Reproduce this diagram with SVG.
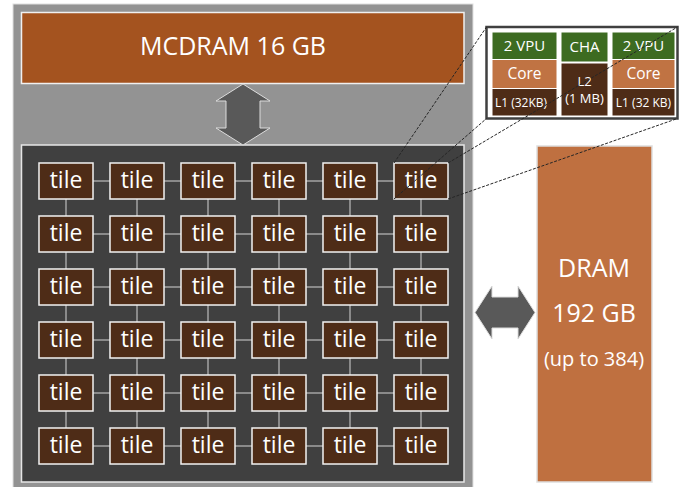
<svg xmlns="http://www.w3.org/2000/svg" width="686" height="487" viewBox="0 0 686 487">
  <defs>
    <style>
      .lbl { font-family: "Open Sans", "DejaVu Sans", sans-serif; fill: #ffffff; text-anchor: middle; }
      .tile rect { fill: #4e2c17; stroke: #f2f2f2; stroke-width: 1.5; }
      .tile text { font-family: "Open Sans", "DejaVu Sans", sans-serif; font-size: 23px; fill: #ffffff; text-anchor: middle; }
      .mesh line { stroke: #a3a3a3; stroke-width: 1.5; }
      .arrow { fill: #595959; stroke: #dcdcdc; stroke-width: 1; }
      .zoom line { stroke: #262626; stroke-width: 1; stroke-dasharray: 3 1.5; }
      .cell { stroke: #ffffff; stroke-width: 1; }
      .vpu { fill: #3d6b21; }
      .core { fill: #c07343; }
      .cache { fill: #4e2c17; }
    </style>
  </defs>

  <!-- chip package -->
  <rect x="13" y="4" width="460" height="484" fill="#939393" stroke="#e0e0e0" stroke-width="1"/>

  <!-- on-package memory -->
  <g id="mcdram">
    <rect x="21.5" y="12.5" width="442.5" height="71" fill="#a4531f" stroke="#f0f0f0" stroke-width="1.5"/>
    <text class="lbl" x="233" y="55" font-size="25">MCDRAM 16 GB</text>
  </g>

  <!-- tile mesh die -->
  <g id="die">
    <rect x="21.5" y="145" width="442.5" height="337" fill="#404040" stroke="#e6e6e6" stroke-width="1.5"/>
  </g>

  <!-- off-package memory -->
  <g id="dram">
    <rect x="537" y="146" width="115" height="336" fill="#bf7040" stroke="#dedede" stroke-width="1.5"/>
    <text class="lbl" x="594" y="277" font-size="25">DRAM</text>
    <text class="lbl" x="594" y="322" font-size="25">192 GB</text>
    <text class="lbl" x="594" y="366" font-size="20">(up to 384)</text>
  </g>

  <!-- connectors: memory links and mesh -->
  <g id="connectors">
    <path class="arrow" d="M243,84 L270,101 L260,101 L260,128 L270,128 L243,145 L216,128 L226,128 L226,101 L216,101 Z"/>
    <path class="arrow" d="M475,312.5 L492,286 L492,297 L518,297 L518,286 L535,312.5 L518,339 L518,328 L492,328 L492,339 Z" stroke="none"/>
    <g class="mesh">
      <!-- horizontal links -->
      <line x1="93" y1="181" x2="110" y2="181"/><line x1="164" y1="181" x2="181" y2="181"/><line x1="235" y1="181" x2="252" y2="181"/><line x1="306" y1="181" x2="323" y2="181"/><line x1="377" y1="181" x2="394" y2="181"/>
      <line x1="93" y1="234" x2="110" y2="234"/><line x1="164" y1="234" x2="181" y2="234"/><line x1="235" y1="234" x2="252" y2="234"/><line x1="306" y1="234" x2="323" y2="234"/><line x1="377" y1="234" x2="394" y2="234"/>
      <line x1="93" y1="287" x2="110" y2="287"/><line x1="164" y1="287" x2="181" y2="287"/><line x1="235" y1="287" x2="252" y2="287"/><line x1="306" y1="287" x2="323" y2="287"/><line x1="377" y1="287" x2="394" y2="287"/>
      <line x1="93" y1="340" x2="110" y2="340"/><line x1="164" y1="340" x2="181" y2="340"/><line x1="235" y1="340" x2="252" y2="340"/><line x1="306" y1="340" x2="323" y2="340"/><line x1="377" y1="340" x2="394" y2="340"/>
      <line x1="93" y1="393" x2="110" y2="393"/><line x1="164" y1="393" x2="181" y2="393"/><line x1="235" y1="393" x2="252" y2="393"/><line x1="306" y1="393" x2="323" y2="393"/><line x1="377" y1="393" x2="394" y2="393"/>
      <line x1="93" y1="446" x2="110" y2="446"/><line x1="164" y1="446" x2="181" y2="446"/><line x1="235" y1="446" x2="252" y2="446"/><line x1="306" y1="446" x2="323" y2="446"/><line x1="377" y1="446" x2="394" y2="446"/>
      <!-- vertical links -->
      <line x1="66" y1="199" x2="66" y2="216"/><line x1="137" y1="199" x2="137" y2="216"/><line x1="208" y1="199" x2="208" y2="216"/><line x1="279" y1="199" x2="279" y2="216"/><line x1="350" y1="199" x2="350" y2="216"/><line x1="421" y1="199" x2="421" y2="216"/>
      <line x1="66" y1="252" x2="66" y2="269"/><line x1="137" y1="252" x2="137" y2="269"/><line x1="208" y1="252" x2="208" y2="269"/><line x1="279" y1="252" x2="279" y2="269"/><line x1="350" y1="252" x2="350" y2="269"/><line x1="421" y1="252" x2="421" y2="269"/>
      <line x1="66" y1="305" x2="66" y2="322"/><line x1="137" y1="305" x2="137" y2="322"/><line x1="208" y1="305" x2="208" y2="322"/><line x1="279" y1="305" x2="279" y2="322"/><line x1="350" y1="305" x2="350" y2="322"/><line x1="421" y1="305" x2="421" y2="322"/>
      <line x1="66" y1="358" x2="66" y2="375"/><line x1="137" y1="358" x2="137" y2="375"/><line x1="208" y1="358" x2="208" y2="375"/><line x1="279" y1="358" x2="279" y2="375"/><line x1="350" y1="358" x2="350" y2="375"/><line x1="421" y1="358" x2="421" y2="375"/>
      <line x1="66" y1="411" x2="66" y2="428"/><line x1="137" y1="411" x2="137" y2="428"/><line x1="208" y1="411" x2="208" y2="428"/><line x1="279" y1="411" x2="279" y2="428"/><line x1="350" y1="411" x2="350" y2="428"/><line x1="421" y1="411" x2="421" y2="428"/>
    </g>
  </g>

  <!-- tiles, 6 x 6 -->
  <g id="tiles">
    <g id="tile-r1c1" class="tile"><rect x="39" y="163" width="54" height="36"/><text x="66" y="188">tile</text></g>
    <g id="tile-r1c2" class="tile"><rect x="110" y="163" width="54" height="36"/><text x="137" y="188">tile</text></g>
    <g id="tile-r1c3" class="tile"><rect x="181" y="163" width="54" height="36"/><text x="208" y="188">tile</text></g>
    <g id="tile-r1c4" class="tile"><rect x="252" y="163" width="54" height="36"/><text x="279" y="188">tile</text></g>
    <g id="tile-r1c5" class="tile"><rect x="323" y="163" width="54" height="36"/><text x="350" y="188">tile</text></g>
    <g id="tile-r1c6" class="tile"><rect x="394" y="163" width="54" height="36"/><text x="421" y="188">tile</text></g>

    <g id="tile-r2c1" class="tile"><rect x="39" y="216" width="54" height="36"/><text x="66" y="241">tile</text></g>
    <g id="tile-r2c2" class="tile"><rect x="110" y="216" width="54" height="36"/><text x="137" y="241">tile</text></g>
    <g id="tile-r2c3" class="tile"><rect x="181" y="216" width="54" height="36"/><text x="208" y="241">tile</text></g>
    <g id="tile-r2c4" class="tile"><rect x="252" y="216" width="54" height="36"/><text x="279" y="241">tile</text></g>
    <g id="tile-r2c5" class="tile"><rect x="323" y="216" width="54" height="36"/><text x="350" y="241">tile</text></g>
    <g id="tile-r2c6" class="tile"><rect x="394" y="216" width="54" height="36"/><text x="421" y="241">tile</text></g>

    <g id="tile-r3c1" class="tile"><rect x="39" y="269" width="54" height="36"/><text x="66" y="294">tile</text></g>
    <g id="tile-r3c2" class="tile"><rect x="110" y="269" width="54" height="36"/><text x="137" y="294">tile</text></g>
    <g id="tile-r3c3" class="tile"><rect x="181" y="269" width="54" height="36"/><text x="208" y="294">tile</text></g>
    <g id="tile-r3c4" class="tile"><rect x="252" y="269" width="54" height="36"/><text x="279" y="294">tile</text></g>
    <g id="tile-r3c5" class="tile"><rect x="323" y="269" width="54" height="36"/><text x="350" y="294">tile</text></g>
    <g id="tile-r3c6" class="tile"><rect x="394" y="269" width="54" height="36"/><text x="421" y="294">tile</text></g>

    <g id="tile-r4c1" class="tile"><rect x="39" y="322" width="54" height="36"/><text x="66" y="347">tile</text></g>
    <g id="tile-r4c2" class="tile"><rect x="110" y="322" width="54" height="36"/><text x="137" y="347">tile</text></g>
    <g id="tile-r4c3" class="tile"><rect x="181" y="322" width="54" height="36"/><text x="208" y="347">tile</text></g>
    <g id="tile-r4c4" class="tile"><rect x="252" y="322" width="54" height="36"/><text x="279" y="347">tile</text></g>
    <g id="tile-r4c5" class="tile"><rect x="323" y="322" width="54" height="36"/><text x="350" y="347">tile</text></g>
    <g id="tile-r4c6" class="tile"><rect x="394" y="322" width="54" height="36"/><text x="421" y="347">tile</text></g>

    <g id="tile-r5c1" class="tile"><rect x="39" y="375" width="54" height="36"/><text x="66" y="400">tile</text></g>
    <g id="tile-r5c2" class="tile"><rect x="110" y="375" width="54" height="36"/><text x="137" y="400">tile</text></g>
    <g id="tile-r5c3" class="tile"><rect x="181" y="375" width="54" height="36"/><text x="208" y="400">tile</text></g>
    <g id="tile-r5c4" class="tile"><rect x="252" y="375" width="54" height="36"/><text x="279" y="400">tile</text></g>
    <g id="tile-r5c5" class="tile"><rect x="323" y="375" width="54" height="36"/><text x="350" y="400">tile</text></g>
    <g id="tile-r5c6" class="tile"><rect x="394" y="375" width="54" height="36"/><text x="421" y="400">tile</text></g>

    <g id="tile-r6c1" class="tile"><rect x="39" y="428" width="54" height="36"/><text x="66" y="453">tile</text></g>
    <g id="tile-r6c2" class="tile"><rect x="110" y="428" width="54" height="36"/><text x="137" y="453">tile</text></g>
    <g id="tile-r6c3" class="tile"><rect x="181" y="428" width="54" height="36"/><text x="208" y="453">tile</text></g>
    <g id="tile-r6c4" class="tile"><rect x="252" y="428" width="54" height="36"/><text x="279" y="453">tile</text></g>
    <g id="tile-r6c5" class="tile"><rect x="323" y="428" width="54" height="36"/><text x="350" y="453">tile</text></g>
    <g id="tile-r6c6" class="tile"><rect x="394" y="428" width="54" height="36"/><text x="421" y="453">tile</text></g>
  </g>

  <!-- tile detail: two cores sharing an L2 -->
  <g id="tile-detail">
    <rect x="486.5" y="27" width="191" height="91.5" fill="#ffffff" stroke="#404040" stroke-width="2.5"/>
    <rect class="cell vpu" x="492" y="32" width="65" height="27.5"/>
    <rect class="cell core" x="492" y="59.5" width="65" height="29"/>
    <rect class="cell cache" x="492" y="88.5" width="65" height="27.5"/>
    <rect class="cell vpu" x="561" y="32" width="47" height="30"/>
    <rect class="cell cache" x="561" y="63" width="47" height="53"/>
    <rect class="cell vpu" x="612" y="32" width="63" height="27.5"/>
    <rect class="cell core" x="612" y="59.5" width="63" height="29"/>
    <rect class="cell cache" x="612" y="88.5" width="63" height="27.5"/>
    <text class="lbl" x="524.5" y="51" font-size="15">2 VPU</text>
    <text class="lbl" x="524.5" y="79" font-size="15.5">Core</text>
    <text class="lbl" x="521" y="107" font-size="12">L1 (32KB)</text>
    <text class="lbl" x="584.5" y="52" font-size="15">CHA</text>
    <text class="lbl" x="584.5" y="86" font-size="13">L2</text>
    <text class="lbl" x="584.5" y="103" font-size="13">(1 MB)</text>
    <text class="lbl" x="643.5" y="51" font-size="15">2 VPU</text>
    <text class="lbl" x="643.5" y="79" font-size="15.5">Core</text>
    <text class="lbl" x="643.5" y="107" font-size="12">L1 (32 KB)</text>
  </g>

  <!-- zoom guides from the last tile of row 1 to the detail box -->
  <g id="zoom-guides" class="zoom">
    <line x1="394" y1="163" x2="486.5" y2="27"/>
    <line x1="448" y1="163" x2="677.5" y2="27"/>
    <line x1="394" y1="199" x2="486.5" y2="118.5"/>
    <line x1="448" y1="199" x2="677.5" y2="118.5"/>
  </g>
</svg>
